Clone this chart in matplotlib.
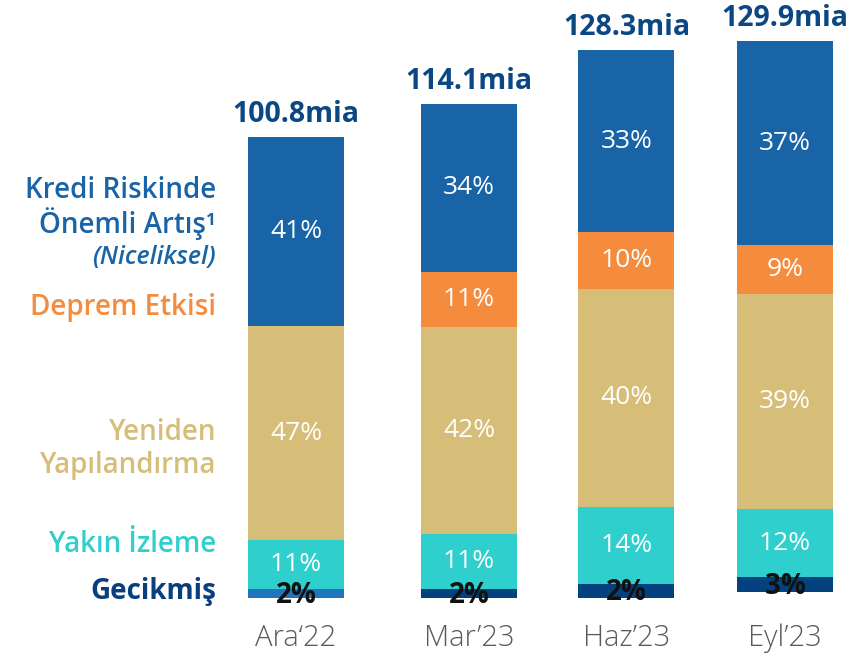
import matplotlib
matplotlib.use("Agg")
import matplotlib.pyplot as plt
import numpy as np

plt.rcParams['font.family'] = ['Open Sans', 'DejaVu Sans']

# data
categories = ["Ara\u201822", "Mar\u201923", "Haz\u201923", "Eyl\u201923"]
totals = ["100.8mia", "114.1mia", "128.3mia", "129.9mia"]

# labels shown inside the segments (%)
gecikmis_pct = [2, 2, 2, 3]
yakin_pct = [11, 11, 14, 12]
yeniden_pct = [47, 42, 40, 39]
deprem_pct = [0, 11, 10, 9]
kredi_pct = [41, 34, 33, 37]

# drawn segment heights (as they appear in the chart)
gecikmis_h = [9, 9, 14, 15]
yakin_h = [49, 55, 77, 68]
yeniden_h = [214, 207, 218, 215]
deprem_h = [0, 55, 57, 49]
kredi_h = [189, 168, 182, 204]
base = [0, 0, 0, 6]

# layout (pixel-like units)
xpos = [296, 469, 626.5, 785]
width = 96

c_kredi = '#1964a6'
c_deprem = '#f58b3d'
c_yeniden = '#d6bd78'
c_yakin = '#2fcfcd'
c_gec = ['#1f76bf', '#03427f', '#03427f', '#03427f']
c_total = '#0b4883'

fig = plt.figure(figsize=(8.49, 6.56), dpi=100)
ax = fig.add_axes((0, 0, 1, 1))
ax.set_xlim(0, 849)
ax.set_ylim(-58, 598)
ax.axis('off')

segments = [
    (gecikmis_h, gecikmis_pct, c_gec, '#111111'),
    (yakin_h, yakin_pct, c_yakin, 'white'),
    (yeniden_h, yeniden_pct, c_yeniden, 'white'),
    (deprem_h, deprem_pct, c_deprem, 'white'),
    (kredi_h, kredi_pct, c_kredi, 'white'),
]

bottom = np.array(base, dtype=float)
for heights, pcts, color, tcol in segments:
    h = np.array(heights, dtype=float)
    ax.bar(xpos, h, width=width, bottom=bottom, color=color, linewidth=0)
    for i in range(len(xpos)):
        if h[i] <= 0:
            continue
        yc = bottom[i] + h[i] / 2
        if tcol == 'white':
            ax.text(xpos[i], yc, f"{pcts[i]}%", color='white', fontsize=19,
                    fontweight='medium', ha='center', va='center')
        else:
            ax.text(xpos[i], yc - 2, f"{pcts[i]}%", color=tcol, fontsize=20,
                    fontweight='bold', ha='center', va='center')
    bottom = bottom + h

for i in range(len(xpos)):
    ax.text(xpos[i], bottom[i] + 8, totals[i], color=c_total, fontsize=20.5,
            fontweight='bold', ha='center', va='bottom')
    ax.text(xpos[i], -40, categories[i], color='#5a5a5a', fontsize=21,
            fontweight='light', ha='center', va='center')

# left side series names
lx = 216
fs = 20
ax.text(lx, 598 - 190, "Kredi Riskinde", color=c_kredi, fontsize=fs,
        fontweight='semibold', ha='right', va='center')
ax.text(lx, 598 - 224, "\u00d6nemli Art\u0131\u015f\u00b9", color=c_kredi, fontsize=fs,
        fontweight='semibold', ha='right', va='center')
ax.text(lx, 598 - 258, "(Niceliksel)", color=c_kredi, fontsize=18,
        fontweight='semibold', style='italic', ha='right', va='center')
ax.text(lx, 598 - 307, "Deprem Etkisi", color=c_deprem, fontsize=fs,
        fontweight='semibold', ha='right', va='center')
ax.text(lx, 598 - 432, "Yeniden", color=c_yeniden, fontsize=fs,
        fontweight='semibold', ha='right', va='center')
ax.text(lx, 598 - 465, "Yap\u0131land\u0131rma", color=c_yeniden, fontsize=fs,
        fontweight='semibold', ha='right', va='center')
ax.text(lx, 598 - 545, "Yak\u0131n \u0130zleme", color=c_yakin, fontsize=fs,
        fontweight='semibold', ha='right', va='center')
ax.text(lx, 598 - 592, "Gecikmi\u015f", color='#0a3f7e', fontsize=fs,
        fontweight='bold', ha='right', va='center')

fig.savefig('out.png', dpi=100)
